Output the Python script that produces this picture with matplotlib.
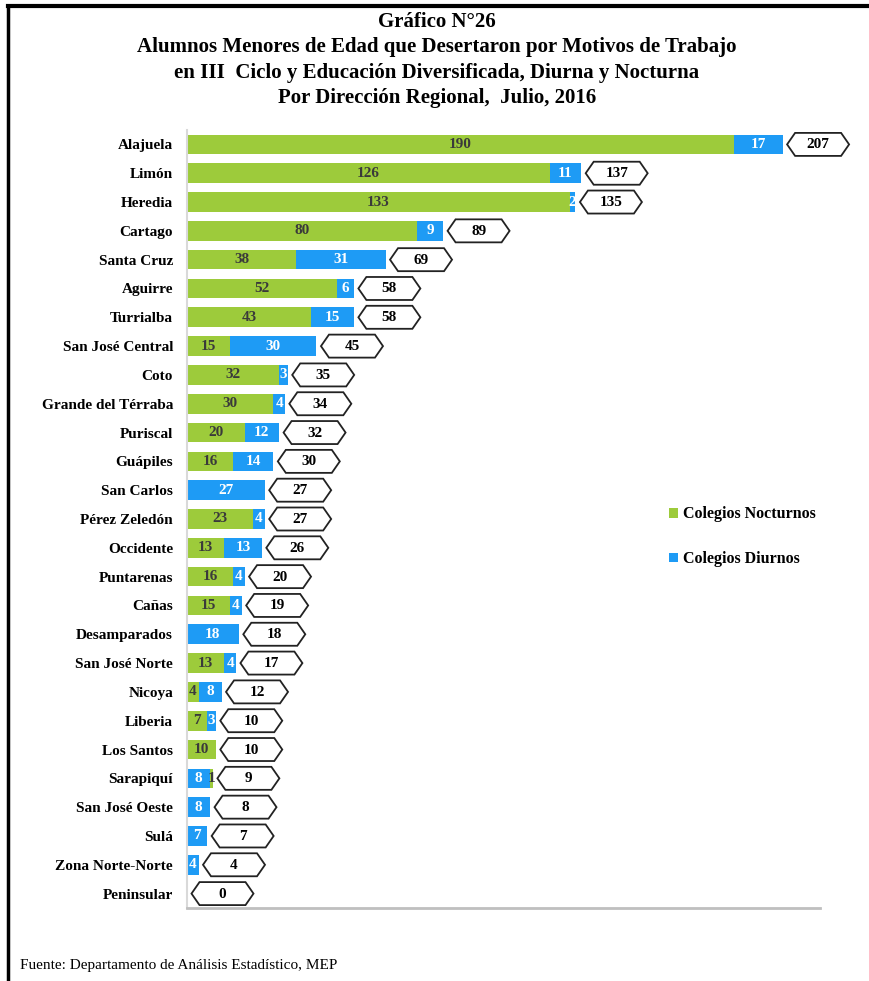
import matplotlib
matplotlib.use("Agg")
import matplotlib.pyplot as plt
from matplotlib.patches import Polygon, Patch
from matplotlib import transforms
from matplotlib.lines import Line2D

plt.rcParams['font.family'] = ['Liberation Serif', 'DejaVu Serif']

regiones = ["Alajuela", "Limón", "Heredia", "Cartago", "Santa Cruz", "Aguirre",
            "Turrialba", "San José Central", "Coto", "Grande del Térraba", "Puriscal",
            "Guápiles", "San Carlos", "Pérez Zeledón", "Occidente", "Puntarenas",
            "Cañas", "Desamparados", "San José Norte", "Nicoya", "Liberia",
            "Los Santos", "Sarapiquí", "San José Oeste", "Sulá", "Zona Norte-Norte",
            "Peninsular"]
nocturnos = [190, 126, 133, 80, 38, 52, 43, 15, 32, 30, 20, 16, 0, 23, 13, 16,
             15, 0, 13, 4, 7, 10, 1, 0, 0, 0, 0]
diurnos = [17, 11, 2, 9, 31, 6, 15, 30, 3, 4, 12, 14, 27, 4, 13, 4,
           4, 18, 4, 8, 3, 0, 8, 8, 7, 4, 0]
diurnos_primero = ["Sarapiquí"]

VERDE = "#9DCB3B"
AZUL = "#1E9BF5"

fig = plt.figure(figsize=(8.7, 9.81), dpi=100)
ax = fig.add_axes([187/870, 1-908/981, 633/870, 778/981])

n = len(regiones)
ys = list(range(n))
h = 0.68
for i, reg in enumerate(regiones):
    noc, diu = nocturnos[i], diurnos[i]
    segs = [(noc, VERDE, "#3a3a3a"), (diu, AZUL, "white")]
    if reg in diurnos_primero:
        segs = segs[::-1]
    left = 0
    for val, col, tcol in segs:
        if val > 0:
            ax.barh(i, val, left=left, height=h, color=col, edgecolor="none")
            ax.text(left + val/2, i, str(val), ha="center", va="center",
                    fontsize=11, fontweight="bold", color=tcol)
        left += val
    total = noc + diu
    # hexagon label box anchored at end of bar
    trans = fig.dpi_scale_trans + transforms.ScaledTranslation(total, i, ax.transData)
    w, hh, nt, gap = 0.62, 0.115, 0.08, 0.045
    verts = [(gap, 0), (gap+nt, hh), (gap+w-nt, hh), (gap+w, 0),
             (gap+w-nt, -hh), (gap+nt, -hh)]
    ax.add_patch(Polygon(verts, closed=True, transform=trans, facecolor="white",
                         edgecolor="#222222", linewidth=1.3, clip_on=False, zorder=5))
    ax.text(gap + w/2, -0.005, str(total), transform=trans, ha="center", va="center",
            fontsize=11, fontweight="bold", color="black", zorder=6)

ax.set_xlim(0, 220)
ax.set_ylim(n - 0.5, -0.5)
ax.set_yticks(ys)
ax.set_yticklabels(regiones, fontsize=11, fontweight="bold")
ax.tick_params(axis="y", length=0, pad=10)
ax.set_xticks([])
for s in ["top", "right"]:
    ax.spines[s].set_visible(False)
ax.spines["left"].set_color("#d9d9d9")
ax.spines["left"].set_linewidth(1.5)
ax.spines["bottom"].set_color("#bfbfbf")
ax.spines["bottom"].set_linewidth(2)

handles = [Patch(facecolor=VERDE, edgecolor="none", label="Colegios Nocturnos"),
           Patch(facecolor=AZUL, edgecolor="none", label="Colegios Diurnos")]
fig.legend(handles=handles, loc="upper left", bbox_to_anchor=(655/870, 1-492/981),
           frameon=False, handlelength=0.55, handleheight=0.55, handletextpad=0.3,
           labelspacing=1.8, prop={"weight": "bold", "size": 11.5})

titulo = ["Gráfico N°26",
          "Alumnos Menores de Edad que Desertaron por Motivos de Trabajo",
          "en III  Ciclo y Educación Diversificada, Diurna y Nocturna",
          "Por Dirección Regional,  Julio, 2016"]
for k, line in enumerate(titulo):
    fig.text(437/870, 1-(22 + 25.3*k)/981, line, ha="center", va="center",
             fontsize=15, fontweight="bold")

fig.text(20/870, 1-966/981, "Fuente: Departamento de Análisis Estadístico, MEP",
         ha="left", va="center", fontsize=11)

# frame lines (top and left)
fig.add_artist(Line2D([8/870, 868/870], [1-6/981, 1-6/981], color="black",
                      linewidth=3, transform=fig.transFigure))
fig.add_artist(Line2D([8/870, 8/870], [0, 1-6/981], color="black",
                      linewidth=2.5, transform=fig.transFigure))

fig.savefig("out.png", dpi=100)
